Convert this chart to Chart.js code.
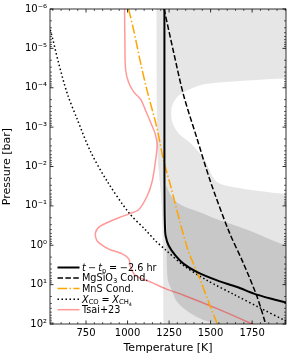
<!DOCTYPE html>
<html>
<head>
<meta charset="utf-8">
<script src="https://cdn.jsdelivr.net/npm/chart.js@4.4.0/dist/chart.umd.min.js"></script>
<style>
  html, body { margin: 0; padding: 0; background: #fff; }
</style>
</head>
<body>
<canvas id="chart" width="287" height="359"></canvas>
<script>
// Temperatures in K, pressures in bar
const profileT = [1222, 1222, 1223, 1225, 1229, 1248, 1289, 1338, 1419, 1539, 1660, 1760, 1860, 1961];
const profileP = [1e-6, 0.01, 0.1, 0.316, 0.575, 1.03, 1.84, 2.97, 4.83, 7.82, 11.5, 16.9, 22.6, 29.1];

const mgsio3T = [1220, 1278, 1338, 1419, 1499, 1609, 1699, 1780, 1830, 1845];
const mgsio3P = [1e-6, 1.29e-5, 1.58e-4, 2.0e-3, 0.024, 0.432, 2.97, 20.4, 95.5, 158];

const mnsT = [1006, 1036, 1078, 1115, 1178, 1218, 1252, 1359, 1439, 1499, 1539, 1560];
const mnsP = [1e-6, 3.31e-6, 2.29e-5, 1.07e-4, 1.10e-3, 7.41e-3, 0.024, 1.14, 7.82, 36.7, 95.5, 158];

const coch4T = [506, 536, 584, 638, 699, 777, 878, 1008, 1108, 1168, 1228, 1338, 1479, 1639, 1800, 1961];
const coch4P = [1.78e-6, 3.55e-6, 2.29e-5, 1.45e-4, 6.61e-4, 4.17e-3, 0.024, 0.150, 0.407, 0.771, 1.30, 3.28, 7.82, 17.6, 39.5, 87.1];

const tsaiT = [982, 984, 988, 1006, 1038, 1078, 1108, 1138, 1168, 1178, 1174, 1168, 1148, 1118, 1068, 1006, 947, 837, 807, 817, 887, 968, 1008, 1018, 1048, 1148, 1228, 1338, 1539, 1740, 1788];
const tsaiP = [1e-6, 7.24e-6, 3.39e-5, 7.24e-5, 1.29e-4, 1.95e-4, 3.72e-4, 7.41e-4, 1.55e-3, 2.82e-3, 4.68e-3, 7.41e-3, 0.024, 0.0562, 0.123, 0.162, 0.2, 0.324, 0.479, 0.776, 1.25, 1.66, 2.24, 3.63, 5.89, 8.91, 12.6, 18.6, 40.7, 95.5, 120];

// spread of the profiles (outer and inner band), left and right edges
const outerLeftT = [1174, 1174, 1180, 1204, 1213, 1216, 1216];
const outerLeftP = [3.16e-7, 1e-6, 4.17e-3, 0.0759, 1.38, 100, 316];
const outerRightT = [2100, 2100, 1955, 1479, 1379, 1308, 1269, 1263, 1272, 1308, 1379, 1459, 1535, 1680, 1956, 2100, 2100];
const outerRightP = [3.16e-7, 5.5e-5, 5.75e-5, 7.94e-5, 1.07e-4, 1.58e-4, 2.82e-4, 4.57e-4, 8.13e-4, 1.45e-3, 2.57e-3, 6.17e-3, 0.024, 0.0355, 0.0501, 0.0562, 316];

const innerLeftT = [1232, 1233, 1234, 1237, 1243, 1267, 1300, 1379, 1457, 1539, 1619, 1700, 2100];
const innerLeftP = [0.0282, 0.1, 0.432, 3.28, 7.82, 14.0, 28.2, 53.7, 79.4, 100, 126, 158, 316];
const innerRightT = [1232, 1240, 1258, 1289, 1338, 1439, 1539, 1740, 1961, 2100, 2100];
const innerRightP = [0.0282, 0.0355, 0.0513, 0.0759, 0.102, 0.148, 0.219, 0.432, 1.03, 1.26, 316];

const xTicks = [750, 1000, 1250, 1500, 1750];
const yTicks = [1e-6, 1e-5, 1e-4, 1e-3, 1e-2, 1e-1, 1, 10, 100];

// legend texts: [text, kind]  r roman, i italic, s subscript, ss sub-subscript, g gap (em)
const seriesNames = [
    [['t', 'i'], [0.22, 'g'], ['\u2212', 'r'], [0.22, 'g'], ['t', 'i'], ['p', 's'], [0.28, 'g'], ['=', 'r'], [0.28, 'g'], ['\u22122.6', 'r'], [' hr', 'r']],
    [['MgSiO', 'r'], ['3', 's'], [' Cond.', 'r']],
    [['MnS Cond.', 'r']],
    [['X', 'i'], ['CO', 's'], [0.28, 'g'], ['=', 'r'], [0.28, 'g'], ['X', 'i'], ['CH', 's'], ['4', 'ss']],
    [['Tsai+23', 'r']]
];

const pts = (xs, ys) => xs.map((v, i) => ({ x: v, y: ys[i] }));
const polygon = (lx, ly, rx, ry) => pts(lx, ly).concat(pts(rx, ry).reverse());

const FONT = '"DejaVu Sans", sans-serif';
Chart.defaults.font.family = FONT;
Chart.defaults.color = '#000';

const SUP = { '-': '\u207B', '0': '\u2070', '1': '\u00B9', '2': '\u00B2', '3': '\u00B3', '4': '\u2074', '5': '\u2075', '6': '\u2076', '7': '\u2077', '8': '\u2078', '9': '\u2079' };
function powLabel(v) {
    const e = Math.round(Math.log10(v));
    return '10' + String(e).split('').map(c => SUP[c]).join('');
}

function drawRich(ctx, parts, x, y, size) {
    parts.forEach(([t, k]) => {
        if (k === 'g') { x += t * size; return; }
        let fs = size, dy = 0, style = '';
        if (k === 'i') style = 'italic ';
        if (k === 's') { fs = size * 0.7; dy = size * 0.2; }
        if (k === 'ss') { fs = size * 0.5; dy = size * 0.33; }
        ctx.font = style + fs + 'px ' + FONT;
        ctx.fillText(t, x, y + dy);
        x += ctx.measureText(t).width;
    });
}

const frameTicks = {
    id: 'frameTicks',
    afterDatasetsDraw(chart) {
        const { ctx, chartArea: a, scales: { x, y } } = chart;
        ctx.save();
        ctx.strokeStyle = '#000';
        const xt = (v, len, w) => {
            const px = x.getPixelForValue(v);
            ctx.lineWidth = w;
            ctx.beginPath();
            ctx.moveTo(px, a.bottom); ctx.lineTo(px, a.bottom - len);
            ctx.moveTo(px, a.top); ctx.lineTo(px, a.top + len);
            ctx.stroke();
        };
        const yt = (v, len, w) => {
            const py = y.getPixelForValue(v);
            ctx.lineWidth = w;
            ctx.beginPath();
            ctx.moveTo(a.left, py); ctx.lineTo(a.left + len, py);
            ctx.moveTo(a.right, py); ctx.lineTo(a.right - len, py);
            ctx.stroke();
        };
        for (let v = 550; v < x.max; v += 50) if (v % 250) xt(v, 2, 0.6);
        xTicks.forEach(v => xt(v, 3.5, 0.8));
        yTicks.forEach((v, i) => {
            yt(v, 3.5, 0.8);
            if (i < yTicks.length - 1) for (let m = 2; m < 10; m++) yt(m * v, 2, 0.6);
        });
        ctx.lineWidth = 0.8;
        ctx.strokeRect(a.left, a.top, a.right - a.left, a.bottom - a.top);

        // legend, lower left, no frame
        ctx.textBaseline = 'alphabetic';
        ctx.fillStyle = '#000';
        seriesNames.forEach((parts, i) => {
            const ds = chart.data.datasets[i];
            const ry = 267.5 + i * 10.55;
            ctx.strokeStyle = ds.borderColor;
            ctx.lineWidth = ds.borderWidth;
            ctx.setLineDash(ds.borderDash || []);
            ctx.beginPath();
            ctx.moveTo(57.5, ry); ctx.lineTo(79.5, ry);
            ctx.stroke();
            ctx.setLineDash([]);
            drawRich(ctx, parts, 82, ry + 3.4, 9.7);
        });
        ctx.restore();
    }
};

const lineDs = (xs, ys, color, width, dash) => ({
    data: pts(xs, ys),
    showLine: true,
    borderColor: color,
    borderWidth: width,
    borderDash: dash,
    borderCapStyle: 'butt',
    pointRadius: 0,
    tension: 0.3,
    fill: false,
    order: 0
});

new Chart(document.getElementById('chart'), {
    type: 'scatter',
    data: {
        datasets: [
            lineDs(profileT, profileP, '#000000', 2, []),
            lineDs(mgsio3T, mgsio3P, '#000000', 1.5, [5.5, 2.4]),
            lineDs(mnsT, mnsP, '#ffa500', 1.5, [9.6, 2.4, 1.5, 2.4]),
            lineDs(coch4T, coch4P, '#000000', 1.5, [1.5, 2.5]),
            lineDs(tsaiT, tsaiP, 'rgba(255, 0, 0, 0.4)', 1.5, []),
            {
                data: polygon(outerLeftT, outerLeftP, outerRightT, outerRightP),
                showLine: true, borderWidth: 0, pointRadius: 0, tension: 0.3,
                capBezierPoints: false,
                backgroundColor: '#e6e6e6', fill: 'shape', order: 2
            },
            {
                data: polygon(innerLeftT, innerLeftP, innerRightT, innerRightP),
                showLine: true, borderWidth: 0, pointRadius: 0, tension: 0.3,
                capBezierPoints: false,
                backgroundColor: '#c8c8c8', fill: 'shape', order: 1
            }
        ]
    },
    options: {
        responsive: false,
        animation: false,
        events: [],
        layout: { padding: { top: 6, right: 1, left: 0, bottom: 0 } },
        plugins: { legend: { display: false }, tooltip: { enabled: false } },
        scales: {
            x: {
                type: 'linear',
                min: 533,
                max: 1954,
                grid: { display: false, drawTicks: false },
                border: { display: false },
                afterBuildTicks: s => { s.ticks = xTicks.map(v => ({ value: v })); },
                afterFit: s => { s.height = 35; },
                ticks: { autoSkip: false, maxRotation: 0, padding: 3, font: { size: 10 }, callback: v => String(v) },
                title: { display: true, text: 'Temperature [K]', font: { size: 11 }, padding: { top: 0, bottom: 4 } }
            },
            y: {
                type: 'logarithmic',
                reverse: true,
                min: 1e-6,
                max: 100,
                grid: { display: false, drawTicks: false },
                border: { display: false },
                afterBuildTicks: s => { s.ticks = yTicks.map(v => ({ value: v })); },
                afterFit: s => { s.width = 50; },
                ticks: { autoSkip: false, padding: 3, font: { size: 10 }, callback: v => powLabel(v) },
                title: { display: true, text: 'Pressure [bar]', font: { size: 11 }, padding: { top: 1, bottom: 0 } }
            }
        }
    },
    plugins: [frameTicks]
});
</script>
</body>
</html>
